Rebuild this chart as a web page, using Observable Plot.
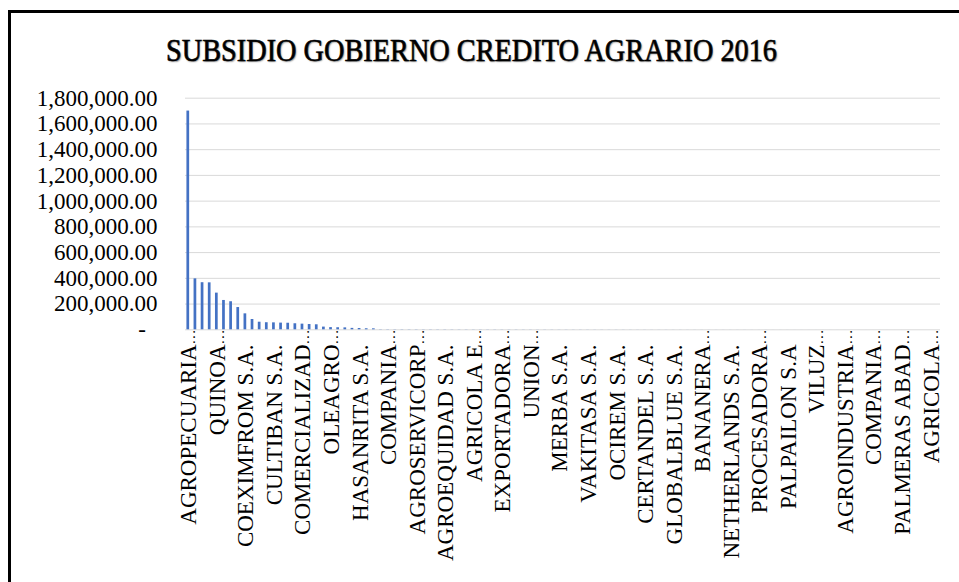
<!DOCTYPE html>
<html>
<head>
<meta charset="utf-8">
<script src="https://cdn.jsdelivr.net/npm/d3@7"></script>
<script src="https://cdn.jsdelivr.net/npm/@observablehq/plot@0.6"></script>
<style>
  html, body { margin: 0; padding: 0; background: #fff; overflow: hidden; width: 959px; height: 582px; }
  #chart { position: absolute; left: 0; top: 0; }
  #frame { position: absolute; left: 8px; top: 10px; width: 1200px; height: 900px;
           border-left: 3px solid #000; border-top: 3px solid #000; pointer-events: none; }
  #title { position: absolute; left: 166px; top: 34px; font-family: "Liberation Serif", "Times New Roman", Times, serif;
           font-size: 32px; font-weight: normal; line-height: 1; white-space: nowrap; color: #000;
           -webkit-text-stroke: 0.6px #000;
           transform-origin: 0 0; text-shadow: 1px 1px 1.5px rgba(0,0,0,0.45); }
</style>
</head>
<body>
<div id="chart"></div>
<div id="title"><span id="titleText">SUBSIDIO GOBIERNO CREDITO AGRARIO 2016</span></div>
<div id="frame"></div>
<script>
// Visible category (tick) labels, one every 4 companies
const labels = [
  "AGROPECUARIA…", "QUINOA…", "COEXIMFROM S.A.", "CULTIBAN S.A.", "COMERCIALIZAD…",
  "OLEAGRO…", "HASANRITA S.A.", "COMPANIA…", "AGROSERVICORP…", "AGROEQUIDAD S.A.",
  "AGRICOLA E…", "EXPORTADORA…", "UNION…", "MERBA S.A.", "VAKITASA S.A.",
  "OCIREM S.A.", "CERTANDEL S.A.", "GLOBALBLUE S.A.", "BANANERA…", "NETHERLANDS S.A.",
  "PROCESADORA…", "PALPAILON S.A", "VILUZ…", "AGROINDUSTRIA…", "COMPANIA…",
  "PALMERAS ABAD…", "AGRICOLA…"
];
const labelEvery = 4;

// Subsidy per company (sorted)
const values = [
  1700000, 396000, 366000, 365000, 285000, 228000, 218000, 173000, 124000, 80000,
  59000, 55000, 54000, 52000, 51000, 47000, 44000, 41000, 39000, 21000,
  17000, 16000, 15000, 11000, 10000, 8000, 7500, 1500, 1450, 1400,
  1350, 1300, 1250, 1200, 1150, 1100, 1050, 1000, 980, 950,
  920, 900, 880, 850, 820, 800, 780, 750, 720, 700,
  680, 650, 620, 600, 580, 560, 540, 520, 500, 480,
  460, 440, 420, 400, 380, 360, 340, 320, 300, 290,
  280, 270, 260, 250, 240, 230, 220, 210, 200, 190,
  180, 170, 160, 150, 140, 130, 120, 110, 100, 95,
  90, 85, 80, 75, 70, 65, 60, 55, 50, 45,
  40, 35, 30, 25, 20, 15
];

const yTicks = [0, 200000, 400000, 600000, 800000, 1000000, 1200000, 1400000, 1600000, 1800000];

const fmt = d3.format(",.2f");
const data = values.map((v, i) => ({i, v}));
const ticks = labels.map((s, k) => ({
  i: k * labelEvery,
  main: s.replace("…", ""),
  ell: s.endsWith("…")
}));

const font = "'Liberation Serif', 'Times New Roman', Times, serif";

const chart = Plot.plot({
  width: 959,
  height: 582,
  marginLeft: 185,
  marginRight: 19,
  marginTop: 97.7,
  marginBottom: 252.7,
  style: {background: "transparent", fontFamily: font, color: "#000"},
  x: {type: "band", domain: d3.range(values.length), paddingInner: 0.62, paddingOuter: 0.2, round: false},
  y: {domain: [0, 1800000]},
  marks: [
    Plot.ruleY(yTicks, {stroke: "#d9d9d9", strokeWidth: 1}),
    Plot.barY(data, {x: "i", y: "v", fill: "#4472C4"}),
    Plot.axisY({
      ticks: yTicks,
      tickFormat: d => d === 0 ? "-\u00a0\u00a0" : fmt(d),
      tickSize: 0,
      tickPadding: 28,
      fontSize: 23,
      fontFamily: font,
      fill: "#000",
      label: null
    }),
    Plot.axisX({ticks: [], tickSize: 0, label: null, tickFormat: () => ""}),
    Plot.text(ticks, {
      x: "i",
      text: "main",
      frameAnchor: "bottom",
      dy: 14.7,
      dx: 8,
      rotate: -90,
      textAnchor: "end",
      fontSize: 23,
      fontFamily: font,
      fill: "#000"
    }),
    Plot.text(ticks.filter(d => d.ell), {
      x: "i",
      text: () => "…",
      frameAnchor: "bottom",
      dy: 14.7,
      dx: 7,
      rotate: -90,
      textAnchor: "start",
      fontSize: 15,
      fontFamily: font,
      fill: "#000"
    })
  ]
});

document.getElementById("chart").appendChild(chart);

// Condense title to its width in the reference
const tspan = document.getElementById("titleText");
const w = tspan.getBoundingClientRect().width;
document.getElementById("title").style.transform = `scaleX(${611 / w})`;
</script>
</body>
</html>
